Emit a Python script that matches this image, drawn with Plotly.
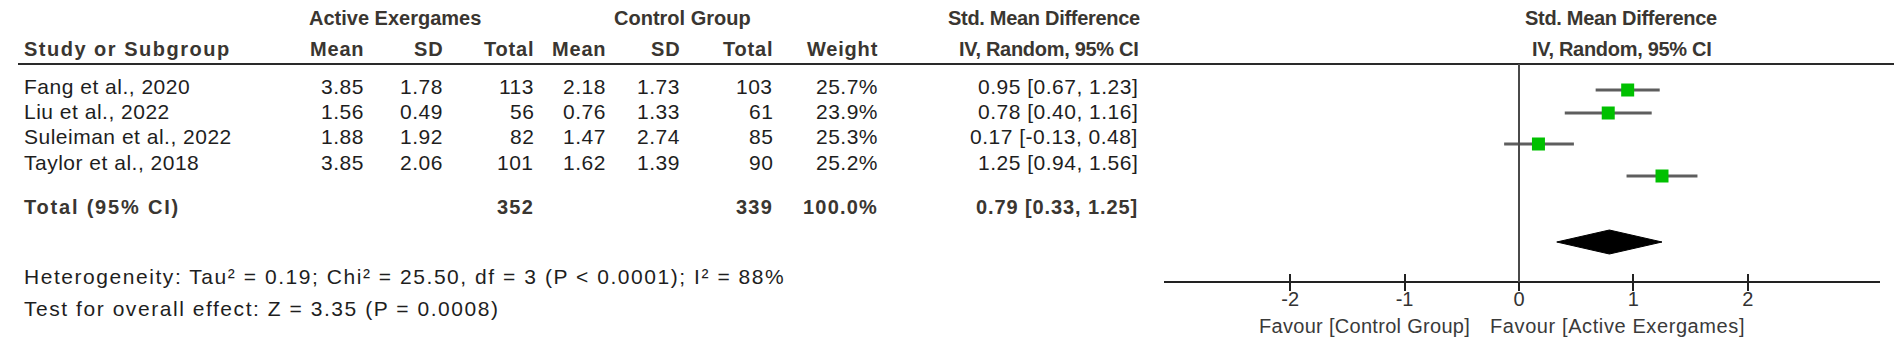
import plotly.graph_objects as go

# ---------------- data ----------------
studies = ["Fang et al., 2020", "Liu et al., 2022", "Suleiman et al., 2022", "Taylor et al., 2018"]
exp_mean = [3.85, 1.56, 1.88, 3.85]
exp_sd = [1.78, 0.49, 1.92, 2.06]
exp_n = [113, 56, 82, 101]
ctl_mean = [2.18, 0.76, 1.47, 1.62]
ctl_sd = [1.73, 1.33, 2.74, 1.39]
ctl_n = [103, 61, 85, 90]
weight = [25.7, 23.9, 25.3, 25.2]
smd = [0.95, 0.78, 0.17, 1.25]
ci_lo = [0.67, 0.40, -0.13, 0.94]
ci_hi = [1.23, 1.16, 0.48, 1.56]

total_exp_n = 352
total_ctl_n = 339
total_weight = 100.0
total_smd = 0.79
total_lo = 0.33
total_hi = 1.25

heterogeneity = "Heterogeneity: Tau² = 0.19; Chi² = 25.50, df = 3 (P < 0.0001); I² = 88%"
overall = "Test for overall effect: Z = 3.35 (P = 0.0008)"
tick_vals = [-2, -1, 0, 1, 2]
tick_text = ["-2", "-1", "0", "1", "2"]
favour_left = "Favour [Control Group]"
favour_right = "Favour [Active Exergames]"

# ---------------- layout constants (pixels) ----------------
W, H = 1902, 342
BODY = "Liberation Sans, Arial, sans-serif"
HEAD = "Liberation Sans Narrow, Arial Narrow, Liberation Sans, Arial, sans-serif"
TXT = "#1e1e1e"
HDR = "#3a3631"
FS = 21
HFS = 20
LS = 0.5    # letter spacing of table text
BLS = 1.2   # letter spacing of bold table text
FLS = 1.55  # letter spacing of footer text

row_y = [78, 103, 128, 154]
total_y = 199
het_y = 268
test_y = 300
plot_row_y = [82, 105, 136, 168]
diamond_y = 234
diamond_h = 12
axis_y = 274
ticklab_y = 277
favour_y = 318
head1_y = 10
head2_y = 41
line_y = 56

col_right = {"em": 358, "es": 437, "en": 528, "cm": 600, "cs": 674, "cn": 767, "w": 872, "ci": 1132}
name_x = 14

x_px0, x_px1 = 1156, 1872
zero_px, unit_px = 1511, 114.4
xr = [(x_px0 - zero_px) / unit_px, (x_px1 - zero_px) / unit_px]

fig = go.Figure()
ann = []


def txt(x, y, s, anchor="left", bold=False, size=FS, color=TXT, font=BODY, ls=LS):
    if ls:
        s = '<span style="letter-spacing:%.2fpx">%s</span>' % (ls, s)
    if bold:
        s = "<b>%s</b>" % s
    ann.append(dict(
        x=x / W, xref="paper", y=y, yref="y", text=s,
        xanchor=anchor, yanchor="middle", showarrow=False,
        font=dict(family=font, size=size, color=color)))


# headers
txt(387, head1_y, "Active Exergames", "center", True, HFS, HDR, HEAD, 0)
txt(674, head1_y, "Control Group", "center", True, HFS, HDR, HEAD, 0)
txt(1036, head1_y, "Std. Mean Difference", "center", True, HFS, HDR, HEAD, -0.3)
txt(1613, head1_y, "Std. Mean Difference", "center", True, HFS, HDR, HEAD, -0.3)
txt(1613, head2_y, "IV, Random, 95% CI", "center", True, HFS, HDR, HEAD, -0.3)
txt(name_x, head2_y, "Study or Subgroup", "left", True, HFS, HDR, HEAD, 1.5)
for key, lab in [("em", "Mean"), ("es", "SD"), ("en", "Total"), ("cm", "Mean"), ("cs", "SD"),
                 ("cn", "Total"), ("w", "Weight")]:
    txt(col_right[key], head2_y, lab, "right", True, HFS, HDR, HEAD, 0.8)
txt(col_right["ci"], head2_y, "IV, Random, 95% CI", "right", True, HFS, HDR, HEAD, -0.3)

# study rows
for i, s in enumerate(studies):
    y = row_y[i]
    txt(name_x, y, s)
    txt(col_right["em"], y, f"{exp_mean[i]:.2f}", "right")
    txt(col_right["es"], y, f"{exp_sd[i]:.2f}", "right")
    txt(col_right["en"], y, f"{exp_n[i]}", "right")
    txt(col_right["cm"], y, f"{ctl_mean[i]:.2f}", "right")
    txt(col_right["cs"], y, f"{ctl_sd[i]:.2f}", "right")
    txt(col_right["cn"], y, f"{ctl_n[i]}", "right")
    txt(col_right["w"], y, f"{weight[i]:.1f}%", "right")
    txt(col_right["ci"], y, f"{smd[i]:.2f} [{ci_lo[i]:.2f}, {ci_hi[i]:.2f}]", "right")

# total row
txt(name_x, total_y, "Total (95% CI)", "left", True, HFS, HDR, HEAD, 1.8)
txt(col_right["en"], total_y, f"{total_exp_n}", "right", True, HFS, HDR, HEAD, BLS)
txt(col_right["cn"], total_y, f"{total_ctl_n}", "right", True, HFS, HDR, HEAD, BLS)
txt(col_right["w"], total_y, f"{total_weight:.1f}%", "right", True, HFS, HDR, HEAD, BLS)
txt(col_right["ci"], total_y, f"{total_smd:.2f} [{total_lo:.2f}, {total_hi:.2f}]", "right", True, HFS, HDR, HEAD, 0.9)

txt(name_x, het_y, heterogeneity, ls=FLS)
txt(name_x, test_y, overall, ls=FLS)

# favour labels
txt(1464, favour_y, favour_left, "right", False, 20, "#3a3a3a", BODY, 0.3)
txt(1480, favour_y, favour_right, "left", False, 20, "#3a3a3a", BODY, 0.6)

# ---------------- forest marks ----------------
for i in range(len(studies)):
    fig.add_trace(go.Scatter(x=[ci_lo[i], ci_hi[i]], y=[plot_row_y[i]] * 2, mode="lines",
                             line=dict(color="#5e5e5e", width=3), showlegend=False, hoverinfo="skip"))
fig.add_trace(go.Scatter(x=smd, y=plot_row_y, mode="markers",
                         marker=dict(symbol="square", size=13, color="#00c000", line=dict(width=0)),
                         showlegend=False))
fig.add_trace(go.Scatter(
    x=[total_lo, total_smd, total_hi, total_smd, total_lo],
    y=[diamond_y, diamond_y - diamond_h, diamond_y, diamond_y + diamond_h, diamond_y],
    mode="lines", fill="toself", fillcolor="#000000", line=dict(color="#000000", width=1),
    showlegend=False))

# lines
shapes = [
    dict(type="line", xref="paper", yref="y", x0=10 / W, x1=1896 / W, y0=line_y, y1=line_y,
         line=dict(color="#2a2a2a", width=2)),
    dict(type="line", xref="x", yref="y", x0=0, x1=0, y0=line_y, y1=axis_y,
         line=dict(color="#4a4a4a", width=2)),
]

axis_pos = 1 - axis_y / H
fig.update_layout(
    width=W, height=H, margin=dict(l=0, r=0, t=0, b=0),
    paper_bgcolor="white", plot_bgcolor="white",
    annotations=ann, shapes=shapes,
    xaxis=dict(domain=[x_px0 / W, x_px1 / W], range=xr, anchor="free", position=axis_pos,
               showline=True, linecolor="#222", linewidth=2, showgrid=False, zeroline=False,
               tickvals=tick_vals, ticks="outside", ticklen=8, tickwidth=2, tickcolor="#222",
               showticklabels=False),
    xaxis2=dict(domain=[x_px0 / W, x_px1 / W], range=xr, anchor="free", position=axis_pos,
                overlaying="x", showline=False, showgrid=False, zeroline=False,
                tickvals=tick_vals, ticks="inside", ticklen=8, tickwidth=2, tickcolor="#222",
                showticklabels=False),
    xaxis3=dict(domain=[x_px0 / W, x_px1 / W], range=xr, anchor="free", position=1 - ticklab_y / H,
                overlaying="x", showline=False, showgrid=False, zeroline=False,
                tickvals=tick_vals, ticktext=tick_text, ticks="",
                tickfont=dict(family=BODY, size=20, color="#333")),
    yaxis=dict(domain=[0, 1], range=[H, 0], visible=False, fixedrange=True),
)
# invisible traces to activate the overlay axes
for ax in ("x2", "x3"):
    fig.add_trace(go.Scatter(x=[0], y=[axis_y], xaxis=ax, mode="markers",
                             marker=dict(size=0, opacity=0), showlegend=False, hoverinfo="skip"))

fig.write_html("out.html")
